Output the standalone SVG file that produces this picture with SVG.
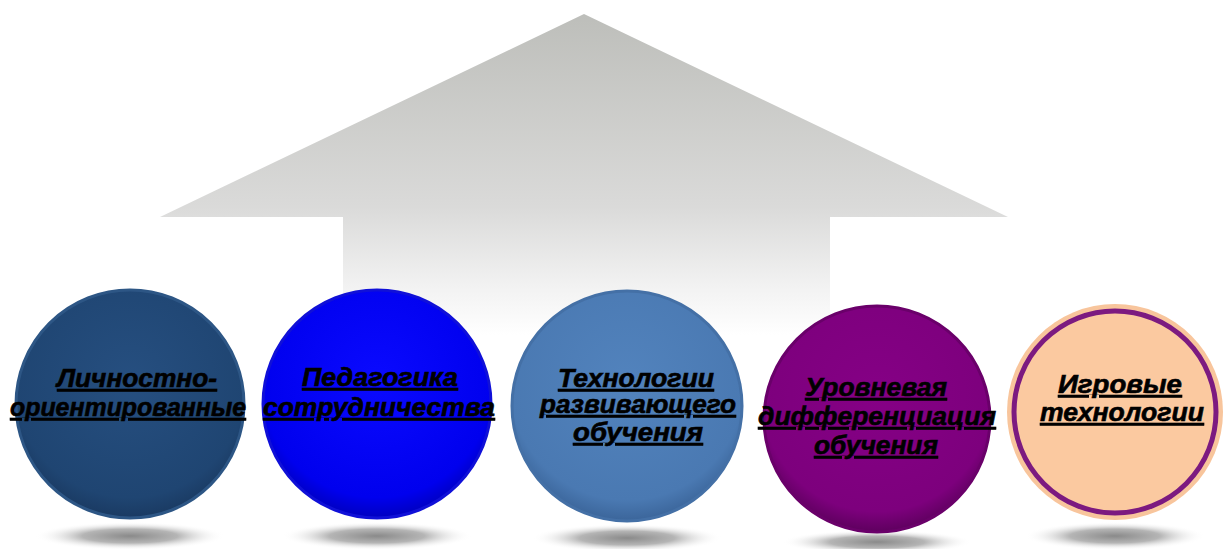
<svg xmlns="http://www.w3.org/2000/svg" width="1224" height="549" viewBox="0 0 1224 549">
<defs>
<linearGradient id="arrowGrad" x1="0" y1="14" x2="0" y2="335" gradientUnits="userSpaceOnUse">
<stop offset="0" stop-color="#bdbeba"/>
<stop offset="0.6" stop-color="#dadad9"/>
<stop offset="0.85" stop-color="#f2f2f2"/>
<stop offset="1" stop-color="#ffffff"/>
</linearGradient>
<radialGradient id="shadowGrad" cx="0.5" cy="0.5" r="0.5">
<stop offset="0" stop-color="#8a8a8a"/>
<stop offset="0.5" stop-color="#b5b5b5"/>
<stop offset="1" stop-color="#ffffff" stop-opacity="0"/>
</radialGradient>
<radialGradient id="g1" cx="0.5" cy="0.4" r="0.6">
<stop offset="0" stop-color="#264f80"/>
<stop offset="0.85" stop-color="#1f4572"/>
<stop offset="1" stop-color="#1a3a62"/>
</radialGradient>
<radialGradient id="g2" cx="0.5" cy="0.4" r="0.6">
<stop offset="0" stop-color="#0a0aff"/>
<stop offset="0.85" stop-color="#0000ee"/>
<stop offset="1" stop-color="#0000c0"/>
</radialGradient>
<radialGradient id="g3" cx="0.5" cy="0.4" r="0.6">
<stop offset="0" stop-color="#5283bd"/>
<stop offset="0.85" stop-color="#4a79b2"/>
<stop offset="1" stop-color="#3b659a"/>
</radialGradient>
<radialGradient id="g4" cx="0.5" cy="0.4" r="0.6">
<stop offset="0" stop-color="#850085"/>
<stop offset="0.85" stop-color="#7d007d"/>
<stop offset="1" stop-color="#5e005e"/>
</radialGradient>
<style>
.lbl{font-family:"Liberation Sans",Arial,sans-serif;font-size:25px;font-weight:bold;font-style:italic;fill:#000000;stroke:#000000;stroke-width:0.6px;text-decoration:underline;}
.shadow{fill:url(#shadowGrad);}
</style>
</defs>
<rect width="1224" height="549" fill="#ffffff"/>
<g id="arrow">
<polygon points="584,14 1008,217 830,217 830,335 343,335 343,217 160,217" fill="url(#arrowGrad)"/>
</g>
<g id="shadows">
<ellipse class="shadow" cx="130" cy="536" rx="95" ry="14"/>
<ellipse class="shadow" cx="377" cy="536" rx="95" ry="14"/>
<ellipse class="shadow" cx="627" cy="538" rx="95" ry="14"/>
<ellipse class="shadow" cx="877" cy="542" rx="95" ry="12"/>
<ellipse class="shadow" cx="1115" cy="536" rx="90" ry="14"/>
</g>
<g id="node1">
<circle cx="130" cy="404" r="114" fill="url(#g1)" stroke="#2d5685" stroke-width="3"/>
<text class="lbl" x="137" y="387" text-anchor="middle" textLength="160" lengthAdjust="spacingAndGlyphs">Личностно-</text>
<text class="lbl" x="128" y="416" text-anchor="middle" textLength="236" lengthAdjust="spacingAndGlyphs">ориентированные</text>
</g>
<g id="node2">
<circle cx="377" cy="404" r="114" fill="url(#g2)" stroke="#1010d8" stroke-width="3"/>
<text class="lbl" x="380" y="386" text-anchor="middle" textLength="156" lengthAdjust="spacingAndGlyphs">Педагогика</text>
<text class="lbl" x="379" y="416" text-anchor="middle" textLength="232" lengthAdjust="spacingAndGlyphs">сотрудничества</text>
</g>
<g id="node3">
<circle cx="627" cy="406" r="115" fill="url(#g3)" stroke="#4470a6" stroke-width="3"/>
<text class="lbl" x="636" y="387" text-anchor="middle" textLength="156" lengthAdjust="spacingAndGlyphs">Технологии</text>
<text class="lbl" x="638" y="413" text-anchor="middle" textLength="196" lengthAdjust="spacingAndGlyphs">развивающего</text>
<text class="lbl" x="638" y="441" text-anchor="middle" textLength="130" lengthAdjust="spacingAndGlyphs">обучения</text>
</g>
<g id="node4">
<circle cx="877" cy="419" r="113" fill="url(#g4)" stroke="#6a006a" stroke-width="3"/>
<text class="lbl" x="876" y="396" text-anchor="middle" textLength="142" lengthAdjust="spacingAndGlyphs">Уровневая</text>
<text class="lbl" x="877" y="425" text-anchor="middle" textLength="238" lengthAdjust="spacingAndGlyphs">дифференциация</text>
<text class="lbl" x="876" y="454" text-anchor="middle" textLength="124" lengthAdjust="spacingAndGlyphs">обучения</text>
</g>
<g id="node5">
<circle cx="1115" cy="412" r="108" fill="#f8c59c"/>
<circle cx="1115" cy="412" r="101" fill="#fbc9a0" stroke="#7c1a80" stroke-width="5"/>
<text class="lbl" x="1120" y="393" text-anchor="middle" textLength="124" lengthAdjust="spacingAndGlyphs">Игровые</text>
<text class="lbl" x="1122" y="421" text-anchor="middle" textLength="164" lengthAdjust="spacingAndGlyphs">технологии</text>
</g>
</svg>
